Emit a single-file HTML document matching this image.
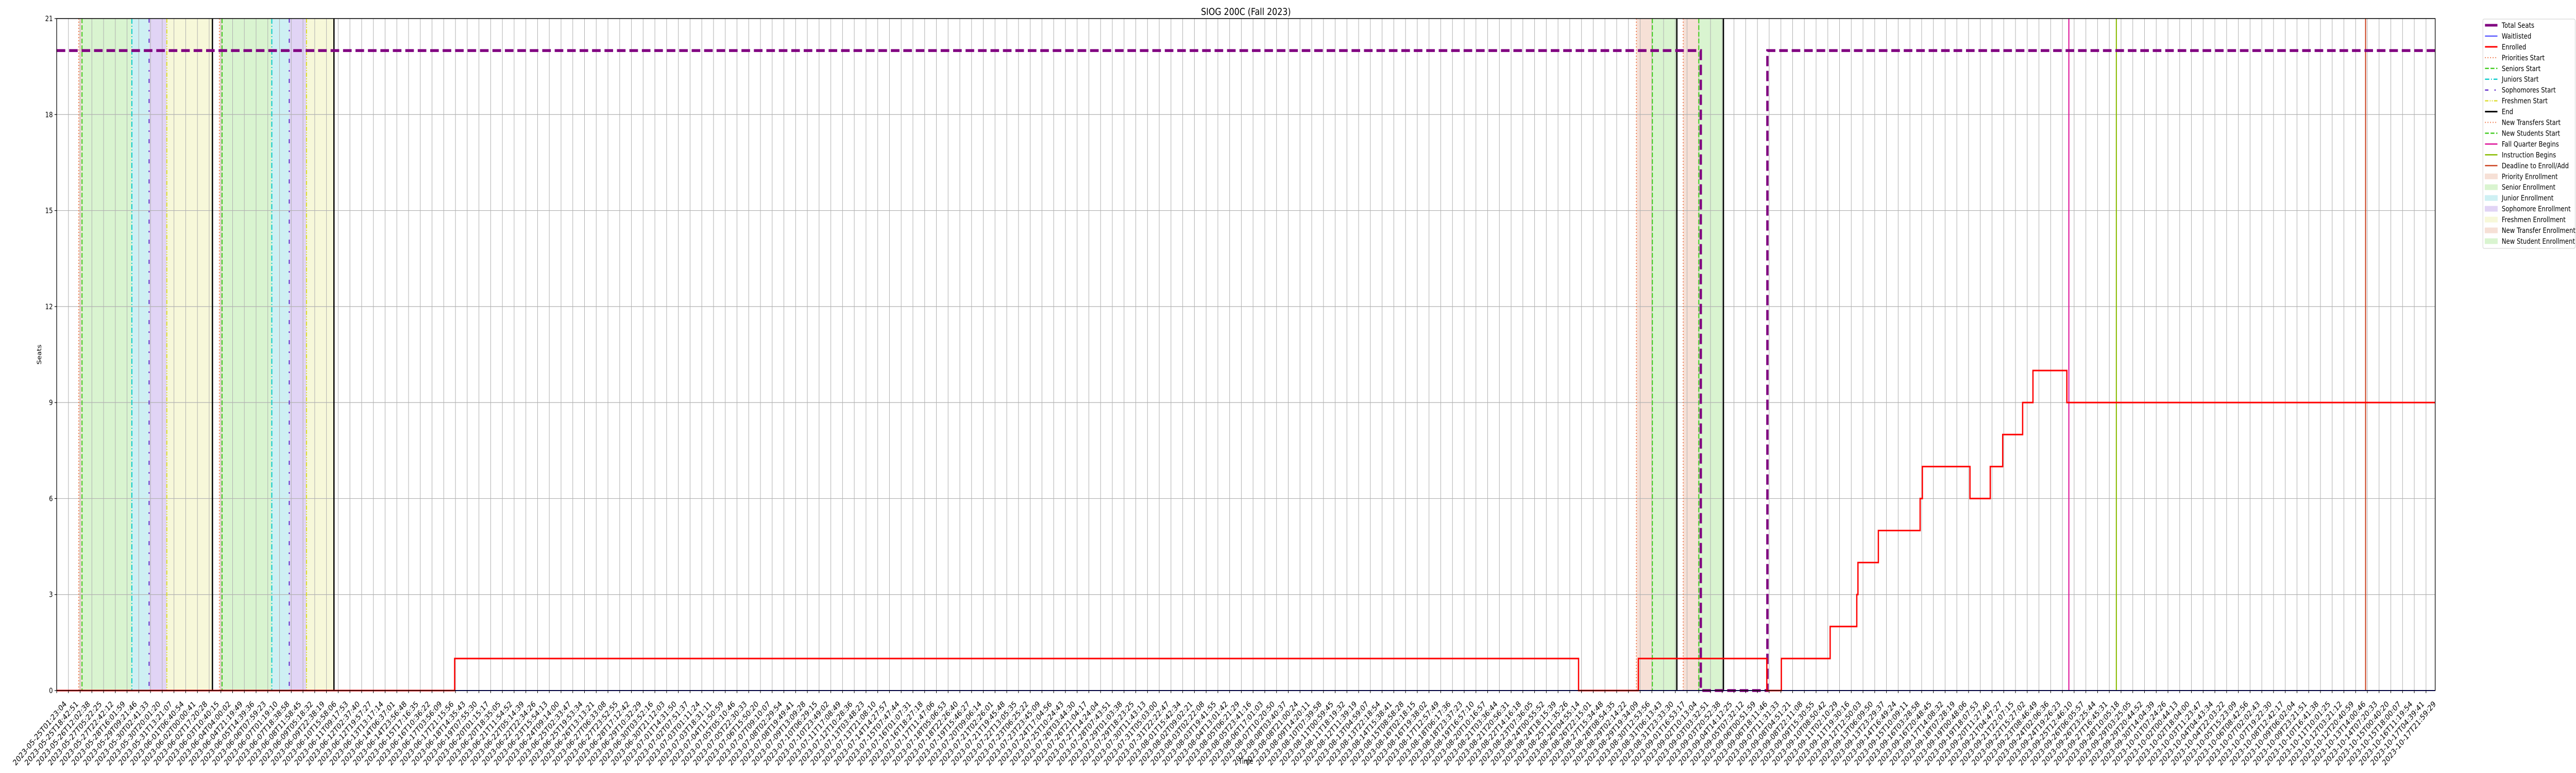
<!DOCTYPE html>
<html><head><meta charset="utf-8"><title>SIOG 200C (Fall 2023)</title>
<style>
html,body{margin:0;padding:0;background:#fff;overflow:hidden;width:100%;height:100%;}
svg{display:block;width:100vw;height:100vh;font-family:"DejaVu Sans","Liberation Sans",sans-serif;}
</style></head>
<body>
<svg id="chart" viewBox="0 0 6000 1500" preserveAspectRatio="none" xmlns="http://www.w3.org/2000/svg">
<text x="2902" y="29" font-size="19" text-anchor="middle" fill="#000">SIOG 200C (Fall 2023)</text>
<text x="96" y="688" font-size="14" text-anchor="middle" transform="rotate(-90 96 688)" fill="#000">Seats</text>
<text x="2902" y="1482" font-size="14" text-anchor="middle" fill="#000">Time</text>
<g id="shades"></g>
<g id="grid"></g>
<g id="vlines"></g>
<g id="series"></g>
<g id="axes"></g>
<g id="legend"></g>
</svg>
<script>
// ---- data (x in tick-index units) ----
const startTime = "2023-05-25T01:23:04";
const endTime = "2023-10-17T21:59:29";
const tickCount = 203;
const yTicks = [0,3,6,9,12,15,18,21];
const totalSeatsX = [0, 140.17, 145.85, 202.77];
const totalSeatsY = [20, 0, 20, 20];
const enrolledX = [0, 33.93, 129.75, 134.85, 145.8, 147.04, 151.2, 153.47, 153.57, 155.31, 158.87, 159.06, 163.12, 164.85, 165.91, 167.61, 168.49, 171.38, 202.77];
const enrolledY = [0, 1, 0, 1, 0, 1, 2, 3, 4, 5, 6, 7, 6, 7, 8, 9, 10, 9, 9];
const waitlistX = [0, 202.77];
const waitlistY = [0, 0];
const shadeKinds = ["priority","senior","junior","sophomore","freshmen","priority","senior","junior","sophomore","freshmen","transfer","newstudent","transfer","newstudent"];
const shadeStart = [1.88, 2.16, 6.41, 7.88, 9.39, 13.87, 14.1, 18.34, 19.83, 21.3, 134.68, 136.04, 138.67, 140.0];
const shadeEnd   = [2.16, 6.41, 7.88, 9.39, 13.28, 14.1, 18.34, 19.83, 21.3, 23.64, 136.04, 138.13, 140.0, 142.1];
const lineKinds = ["priorities","seniors","juniors","sophomores","freshmen","end","priorities","seniors","juniors","sophomores","freshmen","end","transfers","newstudents","end","transfers","newstudents","end","fall","instruction","deadline"];
const lineX = [1.88, 2.16, 6.41, 7.88, 9.39, 13.28, 13.87, 14.1, 18.34, 19.83, 21.3, 23.64, 134.68, 136.04, 138.13, 138.67, 140.0, 142.1, 171.55, 175.6, 196.85];

// ---- scales ----
const X0=132, X1=5672, Y0=1340, Y1=36, TICKW=27.32;
const xs = i => X0 + i*TICKW;
const ys = v => Y0 - (v/21)*(Y0-Y1);
const NS="http://www.w3.org/2000/svg";
function mk(tag, attrs, parent){const e=document.createElementNS(NS,tag);for(const k in attrs)e.setAttribute(k,attrs[k]);parent.appendChild(e);return e;}
const shadeFill={priority:"#f6e0d6",senior:"#d9f4d0",junior:"#cef0f3",sophomore:"#e1d4f5",freshmen:"#f7f8d9",transfer:"#f6e0d6",newstudent:"#d9f4d0"};
const lineStyle={
 priorities:{c:"#ee7040",w:2,d:"2,4"},
 transfers:{c:"#ee7040",w:2,d:"2,4"},
 seniors:{c:"#44cc22",w:2.5,d:"9,4"},
 newstudents:{c:"#44cc22",w:2.5,d:"9,4"},
 juniors:{c:"#11cccc",w:2.5,d:"10,4,2,4"},
 sophomores:{c:"#6633cc",w:2.5,d:"8,14,3,14"},
 freshmen:{c:"#dddd33",w:2.5,d:"8,3,2,3,2,3"},
 end:{c:"#000",w:3,d:""},
 fall:{c:"#dd1199",w:2.5,d:""},
 instruction:{c:"#88bb00",w:2.5,d:""},
 deadline:{c:"#cc4422",w:2.5,d:""}
};

// shades
const gS=document.getElementById('shades');
for(let i=0;i<shadeStart.length;i++){
 const r=mk('rect',{x:xs(shadeStart[i]),y:Y1,width:xs(shadeEnd[i])-xs(shadeStart[i]),height:Y0-Y1,fill:shadeFill[shadeKinds[i]]},gS);
 
 
}
// grid
const gG=document.getElementById('grid');
for(let i=0;i<tickCount;i++){
 const l=mk('line',{x1:xs(i),x2:xs(i),y1:Y1,y2:Y0,stroke:"#b0b0b0","stroke-width":1.2},gG);
 
 
}
yTicks.forEach(v=>{
 const l=mk('line',{x1:X0,x2:X1,y1:ys(v),y2:ys(v),stroke:"#b0b0b0","stroke-width":1.2},gG);
 
 
});
// vertical event lines
const gV=document.getElementById('vlines');
for(let i=0;i<lineX.length;i++){
 const s=lineStyle[lineKinds[i]];
 const l=mk('line',{x1:xs(lineX[i]),x2:xs(lineX[i]),y1:Y1,y2:Y0,stroke:s.c,"stroke-width":s.w},gV);
 if(s.d)l.setAttribute('stroke-dasharray',s.d);
 
 
}
// step series
function stepPath(X,Y){let d=`M${xs(X[0])},${ys(Y[0])}`;for(let i=1;i<X.length;i++){d+=` H${xs(X[i])} V${ys(Y[i])}`;}return d;}
const gSer=document.getElementById('series');
const pw=mk('path',{d:stepPath(waitlistX,waitlistY),fill:"none",stroke:"#0000ff","stroke-width":2},gSer);


const pt=mk('path',{d:stepPath(totalSeatsX,totalSeatsY),fill:"none",stroke:"#800080","stroke-width":5.5,"stroke-dasharray":"20,9"},gSer);


const pe=mk('path',{d:stepPath(enrolledX,enrolledY),fill:"none",stroke:"#ff0000","stroke-width":3},gSer);



// axes
const gA=document.getElementById('axes');
const fr=mk('rect',{x:X0,y:Y1,width:X1-X0,height:Y0-Y1,fill:"none",stroke:"#000","stroke-width":1.5},gA);


yTicks.forEach(v=>{
 const t=mk('line',{x1:X0-5,x2:X0,y1:ys(v),y2:ys(v),stroke:"#000","stroke-width":1.2},gA);
 
 
 const tx=mk('text',{x:X0-9,y:ys(v)+5,"font-size":14,"text-anchor":"end",fill:"#000"},gA);
 tx.textContent=String(v);
 
 
});
const t0=Date.parse(startTime+"Z"), t1=Date.parse(endTime+"Z");
const tickLabels=[];
for(let i=0;i<tickCount;i++){tickLabels.push(new Date(t0+(t1-t0)*i/(tickCount-1)).toISOString().slice(0,19));}
tickLabels[0]=startTime; tickLabels[tickCount-1]=endTime;
for(let i=0;i<tickCount;i++){
 const x=xs(i);
 const t=mk('line',{x1:x,x2:x,y1:Y0,y2:Y0+5,stroke:"#000","stroke-width":1.2},gA);
 
 
 const ax=x+24, ay=Y0+27;
 const tx=mk('text',{x:ax,y:ay,"font-size":15.5,"text-anchor":"end",fill:"#000",transform:`rotate(-45 ${ax} ${ay})`},gA);
 tx.textContent=tickLabels[i];
 
 
}

// legend
const legendLabels=["Total Seats","Waitlisted","Enrolled","Priorities Start","Seniors Start","Juniors Start","Sophomores Start","Freshmen Start","End","New Transfers Start","New Students Start","Fall Quarter Begins","Instruction Begins","Deadline to Enroll/Add","Priority Enrollment","Senior Enrollment","Junior Enrollment","Sophomore Enrollment","Freshmen Enrollment","New Transfer Enrollment","New Student Enrollment"];
const legendKeys=[{c:"#800080",w:5.5,d:""},{c:"#0000ff",w:1.5,d:""},{c:"#ff0000",w:3,d:""},lineStyle.priorities,lineStyle.seniors,lineStyle.juniors,lineStyle.sophomores,lineStyle.freshmen,lineStyle.end,lineStyle.transfers,lineStyle.newstudents,lineStyle.fall,lineStyle.instruction,lineStyle.deadline,
 {p:"#f6e0d6"},{p:"#d9f4d0"},{p:"#cef0f3"},{p:"#e1d4f5"},{p:"#f7f8d9"},{p:"#f6e0d6"},{p:"#d9f4d0"}];
const gL=document.getElementById('legend');
const lb=mk('rect',{x:5783,y:37,width:215,height:445,rx:3,fill:"#fff","fill-opacity":0.8,stroke:"#cccccc","stroke-width":1},gL);


for(let i=0;i<legendLabels.length;i++){
 const cy=49+i*20.95;
 const k=legendKeys[i];
 const g=mk('g',{},gL);
 
 
 if(k.p){mk('rect',{x:5788,y:cy-5,width:29,height:10,fill:k.p,stroke:k.p},g);}
 else{const l=mk('line',{x1:5788,x2:5817,y1:cy,y2:cy,stroke:k.c,"stroke-width":Math.min(k.w,5)},g);if(k.d)l.setAttribute('stroke-dasharray',k.d);}
 const tx=mk('text',{x:5827,y:cy+5,"font-size":14,fill:"#000"},g);
 tx.textContent=legendLabels[i];
}
</script>
</body></html>
